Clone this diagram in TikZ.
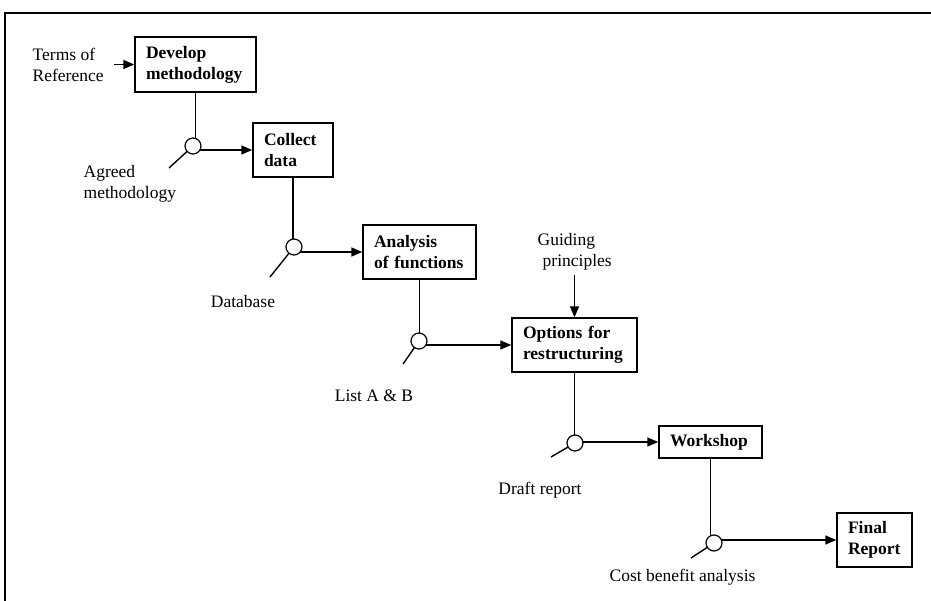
\documentclass[tikz,border=0pt]{standalone}
\usepackage{fontspec}
\setmainfont{Liberation Serif}
\usetikzlibrary{arrows.meta}
\begin{document}
\begin{tikzpicture}[x=1pt,y=-1pt,
  font=\fontsize{17.5}{21}\selectfont,
  line width=1.4pt,
  proc/.style={draw, line width=1.4pt, font=\fontsize{17.5}{21}\selectfont\bfseries,
    align=left, inner xsep=11pt, inner ysep=0pt},
  junc/.style={circle, draw, fill=white, minimum size=16pt, inner sep=0pt, line width=1.2pt},
  lbl/.style={inner sep=0pt, align=left},
  flow/.style={-{Triangle[length=11pt,width=9pt]}}]

\useasboundingbox (0,0) rectangle (931,601);
\draw[line width=1.7pt] (5,601) -- (5,13) -- (931,13);

% process boxes
\node[proc, text width=99pt, minimum height=55pt] (dev) at (195.5,64.5) {Develop\\methodology};
\node[proc, text width=58pt, minimum height=54pt] (col) at (293,150) {Collect\\data};
\node[proc, text width=91pt, minimum height=54pt] (ana) at (419.5,252) {Analysis\\of functions};
\node[proc, text width=103pt, minimum height=54pt] (opt) at (574.5,345) {Options for\\restructuring};
\node[proc, text width=81pt, minimum height=32pt] (wk) at (710.5,442) {Workshop};
\node[proc, text width=53pt, minimum height=54pt] (fin) at (874.5,540) {Final\\Report};

% labels
\node[lbl, anchor=west] (tor) at (32,65) {Terms of\\Reference};
\node[lbl, anchor=west] (agm) at (83,184) {Agreed\\methodology};
\node[lbl] (db) at (243,302) {Database};
\node[lbl] (lab) at (374,396) {List A \& B};
\node[lbl] (dr) at (540,490) {Draft report};
\node[lbl] (cba) at (682.5,577) {Cost benefit analysis};
\node[lbl, anchor=west] (gp) at (537,252) {Guiding\\\hspace*{5pt}principles};

% junction centres and tick ends
\coordinate (jc1) at (193,146);
\coordinate (jc2) at (294,247);
\coordinate (jc3) at (419,341);
\coordinate (jc4) at (575,443);
\coordinate (jc5) at (714,543);
\coordinate (e1) at (169,168);
\coordinate (e2) at (270,277);
\coordinate (e3) at (403,364);
\coordinate (e4) at (551,457);
\coordinate (e5) at (691,558);

% inputs
\draw[flow] ([xshift=10pt]tor.east |- dev.west) -- (dev.west);
\coordinate (gpb) at ([yshift=-4pt]gp.south);
\draw[flow] (gpb -| opt.north) -- (opt.north);

% outputs
\draw (dev.south) -- (dev.south |- jc1);
\draw[flow] (jc1 |- col.west) -- (col.west);
\draw (jc1) -- (e1);

\draw (col.south) -- (col.south |- jc2);
\draw[flow] (jc2 |- ana.west) -- (ana.west);
\draw (jc2) -- (e2);

\draw (ana.south) -- (ana.south |- jc3);
\draw[flow] (jc3 |- opt.west) -- (opt.west);
\draw (jc3) -- (e3);

\draw (opt.south) -- (opt.south |- jc4);
\draw[flow] (jc4 |- wk.west) -- (wk.west);
\draw (jc4) -- (e4);

\draw (wk.south) -- (wk.south |- jc5);
\draw[flow] (jc5 |- fin.west) -- (fin.west);
\draw (jc5) -- (e5);

% junction circles
\node[junc] (j1) at (jc1) {};
\node[junc] (j2) at (jc2) {};
\node[junc] (j3) at (jc3) {};
\node[junc] (j4) at (jc4) {};
\node[junc] (j5) at (jc5) {};
\end{tikzpicture}
\end{document}
